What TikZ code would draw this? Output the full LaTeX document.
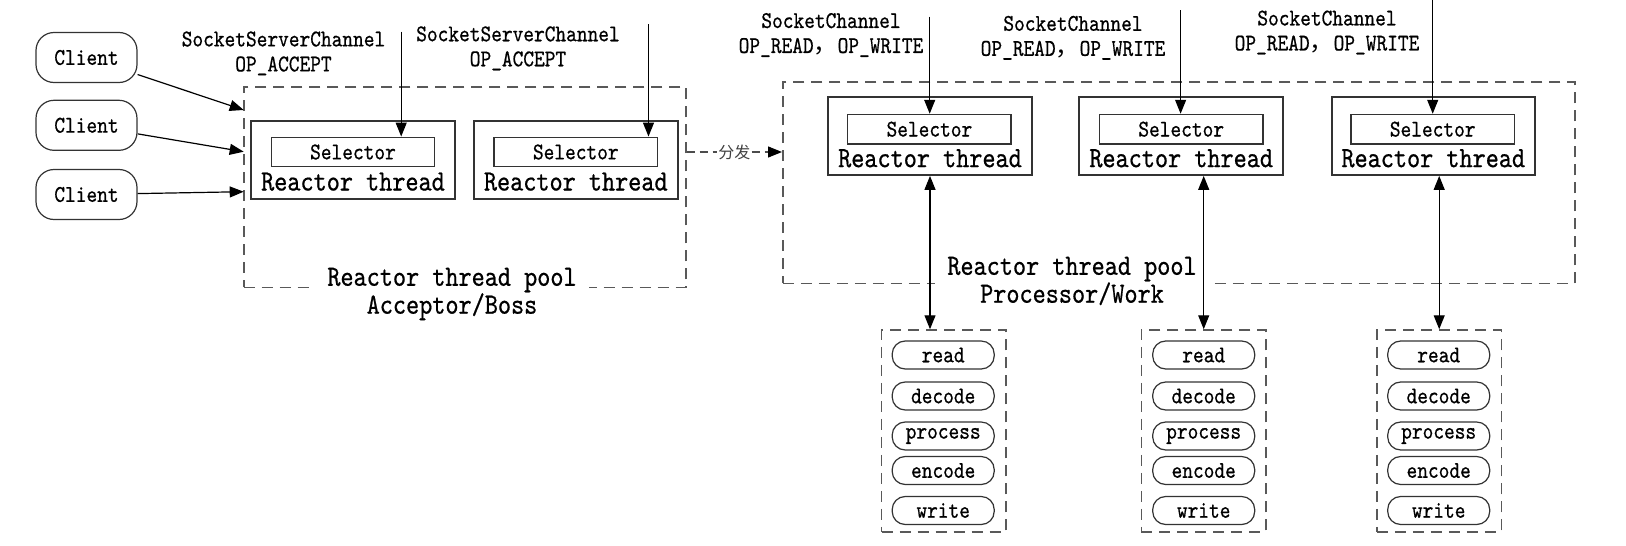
\documentclass[tikz,border=0pt]{standalone}
\usepackage{fontspec}
\newfontfamily\cjk{Noto Sans CJK SC}
\newfontfamily\condmono[FakeStretch=0.85,FakeBold=0.6]{lmmono10-regular.otf}
\usetikzlibrary{arrows.meta}
\newcommand{\smallfont}{\condmono\fontsize{24}{25}\selectfont}
\newcommand{\bigfont}{\condmono\fontsize{29.4}{25}\selectfont}
\tikzset{
  client/.style={draw=black!80, line width=1.2pt, rounded corners=18pt, minimum width=101pt, minimum height=50pt, font=\smallfont},
  pool/.style={draw=black!65, line width=1.6pt, dash pattern=on 11pt off 7pt},
  poollabel/.style={fill=white, align=center, font=\bigfont, inner xsep=12pt, inner ysep=0pt},
  thread/.style={draw=black!80, line width=2pt, minimum width=203.5pt, minimum height=78pt},
  selector/.style={draw=black!80, line width=1.4pt, minimum width=163.5pt, minimum height=29.5pt, inner sep=0pt, font=\smallfont},
  stage/.style={draw=black!80, line width=1.2pt, rounded corners=13pt, minimum width=102pt, minimum height=28pt, inner sep=0pt, font=\smallfont},
  lbl/.style={align=center, font=\smallfont, inner sep=0pt},
  arr/.style={line width=1.2pt, -{Triangle[length=14pt,width=11pt,black]}},
  dual/.style={line width=1.2pt, {Triangle[length=14pt,width=11pt]}-{Triangle[length=14pt,width=11pt]}},
}
\begin{document}
\begin{tikzpicture}[x=1pt, y=-1pt]
  \useasboundingbox (0,0) rectangle (1626,546);
  % clients
  \node[client] (c1) at (86.5,57.5) {Client};
  \node[client] (c2) at (86.5,125.3) {Client};
  \node[client] (c3) at (86.5,194.5) {Client};
  % acceptor pool
  \node[pool, minimum width=442pt, minimum height=200.6pt] (poolA) at (464.7,187) {};
  \node[poollabel] (poolAlbl) at (452,294) {Reactor thread pool\\Acceptor/Boss};
  \node[thread] (t1) at (353,159.5) {};
  \node[selector] (s1) at (353,152) {Selector};
  \node[font=\bigfont] (r1) at (353,181.7) {Reactor thread};
  \node[thread] (t2) at (575.8,159.5) {};
  \node[selector] (s2) at (575.8,152) {Selector};
  \node[font=\bigfont] (r2) at (575.8,181.7) {Reactor thread};
  \node[lbl] (la1) at (283.5,53.4) {SocketServerChannel\\OP\_ACCEPT};
  \node[lbl] (la2) at (518,48.3) {SocketServerChannel\\OP\_ACCEPT};
  \coordinate (in1) at (243.7,110);
  \coordinate (in2) at (243.7,151.7);
  \coordinate (in3) at (243.7,191.7);
  \coordinate (src1) at (401.2,31.7);
  \coordinate (src2) at (648.5,24);
  \draw[arr] (c1) -- (in1);
  \draw[arr] (c2) -- (in2);
  \draw[arr] (c3) -- (in3);
  \draw[arr] (src1) -- (src1 |- s1.north);
  \draw[arr] (src2) -- (src2 |- s2.north);
  % processor pool
  \node[pool, minimum width=792pt, minimum height=201.6pt] (poolP) at (1178.8,182.5) {};
  \node[poollabel] (poolPlbl) at (1072,281) {Reactor thread pool\\Processor/Work};
  \node[thread] (t3) at (930,135.9) {};
  \node[selector] (s3) at (929.4,129.2) {Selector};
  \node[font=\bigfont] (r3) at (930,158.3) {Reactor thread};
  \node[thread] (t4) at (1181.2,135.9) {};
  \node[selector] (s4) at (1181.2,129.2) {Selector};
  \node[font=\bigfont] (r4) at (1181.2,158.3) {Reactor thread};
  \node[thread] (t5) at (1433.3,135.9) {};
  \node[selector] (s5) at (1432.7,129.2) {Selector};
  \node[font=\bigfont] (r5) at (1433.3,158.3) {Reactor thread};
  \node[lbl] (lp1) at (831,35) {SocketChannel\\OP\_READ{\cjk ，}OP\_WRITE};
  \node[lbl] (lp2) at (1073,37.8) {SocketChannel\\OP\_READ{\cjk ，}OP\_WRITE};
  \node[lbl] (lp3) at (1327,32.5) {SocketChannel\\OP\_READ{\cjk ，}OP\_WRITE};
  \coordinate (src3) at (929.7,16.7);
  \coordinate (src4) at (1180.6,10);
  \coordinate (src5) at (1432.7,0);
  \draw[arr] (src3) -- (src3 |- s3.north);
  \draw[arr] (src4) -- (src4 |- s4.north);
  \draw[arr] (src5) -- (src5 |- s5.north);
  % dispatch
  \draw[arr, draw=black!70, dash pattern=on 8pt off 5pt] (poolA.east |- s2) -- node[fill=white, inner sep=1pt, text=black!75, font=\cjk\fontsize{16}{16}\selectfont] (fenfa) {分发} (poolP.west |- s2);
  % handler chains
  \node[pool, minimum width=124.7pt, minimum height=201.7pt] (p1) at (943.9,430.9) {};
  \node[stage] (p1a) at (943.2,355) {read};
  \node[stage] (p1b) at (943.2,396) {decode};
  \node[stage] (p1c) at (943.2,436) {process};
  \node[stage] (p1d) at (943.2,470.5) {encode};
  \node[stage] (p1e) at (943.2,510.5) {write};
  \node[pool, minimum width=124.7pt, minimum height=201.7pt] (p2) at (1203.7,430.9) {};
  \node[stage] (p2a) at (1203.7,355) {read};
  \node[stage] (p2b) at (1203.7,396) {decode};
  \node[stage] (p2c) at (1203.7,436) {process};
  \node[stage] (p2d) at (1203.7,470.5) {encode};
  \node[stage] (p2e) at (1203.7,510.5) {write};
  \node[pool, minimum width=124.7pt, minimum height=201.7pt] (p3) at (1439.2,430.9) {};
  \node[stage] (p3a) at (1438.7,355) {read};
  \node[stage] (p3b) at (1438.7,396) {decode};
  \node[stage] (p3c) at (1438.7,436) {process};
  \node[stage] (p3d) at (1438.7,470.5) {encode};
  \node[stage] (p3e) at (1438.7,510.5) {write};
  \draw[dual] (t3.south) -- (t3.south |- p1.north);
  \draw[dual] (p2.north |- t4.south) -- (p2.north);
  \draw[dual] (p3.north |- t5.south) -- (p3.north);
\end{tikzpicture}
\end{document}
